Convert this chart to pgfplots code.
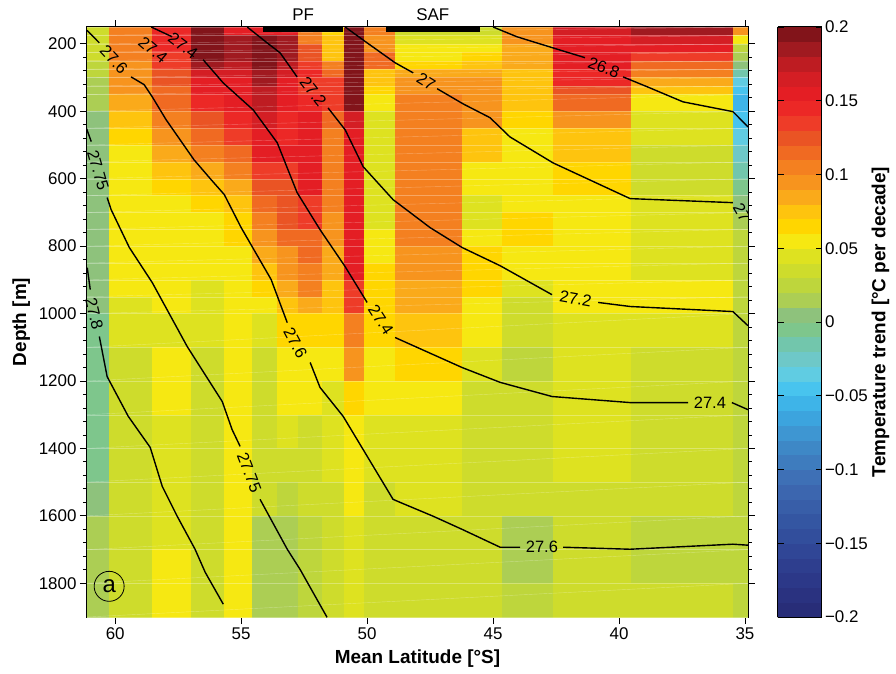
\documentclass[border=0pt]{standalone}
\usepackage{fontspec}
\setmainfont{Liberation Sans}
\usepackage{pgfplots}
\usepackage{pgfplotstable}
\pgfplotsset{compat=1.18}

% temperature trend per cell: rows = depth bins, columns = latitude bins
\pgfplotstableread{
c1 c2 c3 c4 c5 c6 c7 c8 c9 c10 c11 c12 c13 c14 c15 c16 c17
0.03 0.10 0.14 0.19 0.15 0.15 0.15 0.10 0.06 0.19 0.10 0.03 0.03 0.09 0.16 0.18 0.09
0.03 0.10 0.14 0.19 0.18 0.19 0.18 0.10 0.07 0.19 0.09 0.04 0.04 0.09 0.15 0.16 0.05
0.03 0.10 0.14 0.19 0.18 0.19 0.18 0.12 0.07 0.19 0.09 0.05 0.05 0.085 0.15 0.15 0.025
0.03 0.10 0.13 0.19 0.18 0.19 0.18 0.12 0.075 0.19 0.11 0.055 0.065 0.085 0.15 0.13 0.01
0.02 0.09 0.13 0.18 0.17 0.19 0.17 0.13 0.10 0.19 0.11 0.065 0.07 0.08 0.15 0.11 0.0
0.02 0.09 0.12 0.16 0.16 0.18 0.16 0.14 0.11 0.19 0.075 0.08 0.085 0.075 0.14 0.10 -0.02
0.01 0.09 0.12 0.15 0.15 0.18 0.15 0.13 0.13 0.19 0.07 0.09 0.09 0.075 0.14 0.085 -0.04
0.01 0.09 0.11 0.15 0.15 0.17 0.15 0.13 0.13 0.19 0.065 0.095 0.09 0.075 0.12 0.07 -0.05
0.01 0.08 0.11 0.14 0.15 0.17 0.15 0.14 0.13 0.19 0.05 0.10 0.09 0.068 0.11 0.055 -0.055
0.0 0.075 0.10 0.12 0.14 0.16 0.14 0.15 0.11 0.16 0.045 0.105 0.088 0.06 0.09 0.045 -0.05
0.0 0.065 0.09 0.115 0.13 0.15 0.14 0.15 0.10 0.15 0.04 0.105 0.075 0.05 0.075 0.038 -0.035
0.0 0.055 0.085 0.10 0.11 0.15 0.15 0.15 0.10 0.15 0.04 0.105 0.07 0.05 0.075 0.035 -0.03
0.0 0.05 0.075 0.085 0.10 0.13 0.13 0.15 0.10 0.15 0.045 0.105 0.05 0.05 0.065 0.035 -0.02
0.0 0.05 0.065 0.068 0.085 0.12 0.125 0.15 0.10 0.15 0.038 0.105 0.05 0.052 0.063 0.035 -0.01
0.0 0.05 0.05 0.058 0.07 0.11 0.12 0.13 0.10 0.15 0.038 0.105 0.042 0.055 0.05 0.042 0.0
0.0 0.05 0.05 0.052 0.065 0.10 0.12 0.13 0.095 0.15 0.04 0.105 0.042 0.058 0.05 0.042 0.01
0.0 0.048 0.05 0.05 0.06 0.09 0.11 0.11 0.09 0.15 0.052 0.105 0.05 0.058 0.05 0.042 0.02
0.0 0.048 0.05 0.05 0.055 0.085 0.095 0.11 0.085 0.15 0.055 0.09 0.058 0.055 0.05 0.042 0.02
0.0 0.048 0.05 0.05 0.055 0.075 0.09 0.10 0.08 0.15 0.058 0.09 0.058 0.05 0.05 0.042 0.02
0.0 0.048 0.05 0.045 0.05 0.065 0.08 0.10 0.075 0.13 0.065 0.08 0.058 0.04 0.05 0.046 0.02
0.0 0.045 0.05 0.045 0.05 0.055 0.075 0.085 0.07 0.13 0.065 0.08 0.05 0.035 0.05 0.046 0.02
-0.01 0.04 0.045 0.04 0.05 0.04 0.065 0.062 0.06 0.105 0.065 0.07 0.05 0.028 0.042 0.042 0.02
-0.01 0.035 0.052 0.03 0.05 0.035 0.055 0.05 0.05 0.088 0.05 0.058 0.04 0.025 0.04 0.035 0.02
-0.01 0.035 0.052 0.03 0.05 0.035 0.05 0.05 0.045 0.065 0.05 0.05 0.033 0.03 0.045 0.035 0.02
-0.01 0.033 0.038 0.035 0.05 0.03 0.04 0.035 0.04 0.05 0.038 0.04 0.03 0.03 0.045 0.033 0.02
-0.01 0.03 0.038 0.035 0.05 0.03 0.03 0.035 0.04 0.05 0.038 0.04 0.03 0.03 0.04 0.033 0.02
0.0 0.035 0.038 0.035 0.05 0.03 0.025 0.03 0.03 0.05 0.035 0.04 0.03 0.03 0.035 0.033 0.02
0.012 0.03 0.038 0.035 0.05 0.012 0.015 0.02 0.03 0.045 0.035 0.035 0.028 0.015 0.03 0.022 0.02
0.012 0.035 0.048 0.035 0.05 0.012 0.015 0.02 0.03 0.045 0.035 0.035 0.03 0.015 0.03 0.022 0.02
0.012 0.03 0.048 0.035 0.05 0.012 0.015 0.02 0.03 0.045 0.035 0.035 0.03 0.018 0.03 0.027 0.02
}\trend

% cell boundaries (latitude, depth)
\def\xb{{61.12,60.24,58.53,56.98,55.67,54.56,53.57,52.74,51.79,50.91,50.12,48.89,46.23,44.64,42.62,39.52,35.48,34.88}}
\def\yb{{150,175,200,225,250,275,300,325,350,400,450,500,550,600,650,700,750,800,850,900,950,1000,1100,1200,1300,1400,1500,1600,1700,1800,1900}}

\def\coords{}
\foreach \i in {0,...,30}{%
  \foreach \j in {0,...,17}{%
    \pgfmathtruncatemacro\ri{min(\i,29)}%
    \pgfmathtruncatemacro\cj{min(\j,16)}%
    \pgfplotstablegetelem{\ri}{[index]\cj}\of\trend
    \pgfmathsetmacro\cval{\pgfplotsretval+0.004}%
    \pgfmathsetmacro\xv{\xb[\j]}%
    \pgfmathsetmacro\yv{\yb[\i]}%
    \xdef\coords{\coords (\xv,\yv) [\cval]}%
  }%
}

\newcommand\tl{\fontsize{17}{17}\selectfont}
\newcommand\cl{\fontsize{16.5}{16.5}\selectfont}

\begin{document}
\begin{tikzpicture}
\useasboundingbox (-87bp,-57bp) rectangle (809bp,617bp);
\begin{axis}[
  name=main, at={(0,0)}, anchor=south west,
  scale only axis, width=661bp, height=590bp,
  x dir=reverse, y dir=reverse,
  xmin=34.88, xmax=61.12, ymin=150, ymax=1900,
  xtick={35,40,45,50,55,60},
  ytick={200,400,600,800,1000,1200,1400,1600,1800},
  minor y tick num=4,
  tick align=outside,
  major tick length=7bp, minor tick length=4bp,
  tick style={black, line width=0.9pt},
  axis line style={line width=1.1pt},
  clip mode=individual,
  /pgf/number format/assume math mode=true,
  /pgf/number format/1000 sep={},
  tick label style={font=\tl},
  xlabel={\bfseries Mean Latitude [°S]},
  ylabel={\bfseries Depth [m]},
  label style={font=\fontsize{19}{19}\selectfont},
  xlabel style={yshift=-3bp},
  ylabel style={yshift=2bp},
  colormap={trend}{
    rgb255=(40,45,120) rgb255=(42,50,128) rgb255=(44,56,136) rgb255=(46,62,142) rgb255=(48,70,150)
    rgb255=(50,78,156) rgb255=(52,86,162) rgb255=(56,94,168) rgb255=(60,102,175) rgb255=(62,112,182)
    rgb255=(62,124,190) rgb255=(62,136,198) rgb255=(62,150,210) rgb255=(60,164,222) rgb255=(62,180,232)
    rgb255=(72,196,238) rgb255=(96,204,226) rgb255=(110,200,200) rgb255=(114,198,172) rgb255=(126,198,140)
    rgb255=(142,194,124) rgb255=(172,206,84) rgb255=(190,214,60) rgb255=(206,220,44) rgb255=(222,226,32)
    rgb255=(246,232,18) rgb255=(255,214,0) rgb255=(254,196,14) rgb255=(250,170,26) rgb255=(247,148,30)
    rgb255=(244,128,32) rgb255=(240,106,34) rgb255=(234,84,36) rgb255=(238,60,40) rgb255=(236,40,38)
    rgb255=(228,30,36) rgb255=(212,30,36) rgb255=(190,28,34) rgb255=(160,26,32) rgb255=(130,20,26)
  },
  colormap access=piecewise constant,
  point meta min=-0.2, point meta max=0.2,
  colorbar,
  colorbar style={
    at={(parent axis.north east)}, anchor=north west, xshift=21bp,
    scale only axis, width=44bp, height=590bp,
    ytick={-0.2,-0.15,-0.1,-0.05,0,0.05,0.1,0.15,0.2},
    yticklabels={−0.2,−0.15,−0.1,−0.05,0,0.05,0.1,0.15,0.2},
    yticklabel style={font=\tl},
    tick align=inside, major tick length=6bp,
    tick style={black, line width=0.8pt},
    axis line style={line width=1pt},
    ylabel={\bfseries Temperature trend [°C per decade]},
    ylabel style={font=\fontsize{19}{19}\selectfont, yshift=3bp},
  },
]
\edef\temp{\noexpand\addplot[surf, shader=flat corner, mesh/cols=18, point meta=explicit] coordinates {\coords};}
\temp
\edef\temp{\noexpand\addplot[mesh, mesh/cols=18, colormap={whitecm}{color=(white) color=(white)}, opacity=0.3, line width=0.4bp, point meta=explicit] coordinates {\coords};}
\temp

% contour 27.8
\addplot[black, line width=1.4pt] coordinates {(61.11,864) (60.99,929)};
\addplot[black, line width=1.4pt] coordinates {(60.63,1068) (60.32,1187) (59.48,1305) (58.61,1397) (58.13,1513) (57.54,1601) (56.83,1699) (56.43,1767) (55.71,1862)};
\node[font=\cl, rotate=-77] at (axis cs:60.83,1000) {27.8};
% contour 27.75
\addplot[black, line width=1.4pt] coordinates {(61.15,449) (60.95,490)};
\addplot[black, line width=1.4pt] coordinates {(60.32,656) (60.16,692) (59.44,804) (58.53,908) (57.14,1098) (55.75,1261) (55.36,1344) (55.04,1394)};
\addplot[black, line width=1.4pt] coordinates {(54.25,1551) (53.17,1699) (52.66,1759) (51.59,1901)};
\node[font=\cl, rotate=-74] at (axis cs:60.68,575) {27.75};
\node[font=\cl, rotate=-69] at (axis cs:54.68,1471) {27.75};
% contour 27.6
\addplot[black, line width=1.4pt] coordinates {(61.12,160) (60.63,197)};
\addplot[black, line width=1.4pt] coordinates {(59.37,298) (58.85,321) (58.53,357) (57.98,425) (56.87,544) (56.19,603) (55.67,647) (55.0,745) (53.81,899) (53.17,1027)};
\addplot[black, line width=1.4pt] coordinates {(52.26,1145) (51.87,1219) (50.95,1305) (50.16,1403) (48.97,1551) (48.69,1560) (47.38,1601) (46.23,1640) (44.72,1693) (43.93,1693)};
\addplot[black, line width=1.4pt] coordinates {(42.22,1693) (39.56,1699) (35.48,1684) (34.88,1687)};
\node[font=\cl, rotate=-47] at (axis cs:60.05,247) {27.6};
\node[font=\cl, rotate=-62] at (axis cs:52.85,1086) {27.6};
\node[font=\cl] at (axis cs:43.06,1693) {27.6};
% contour 27.4
\addplot[black, line width=1.4pt] coordinates {(58.57,150) (57.74,179)};
\addplot[black, line width=1.4pt] coordinates {(56.51,247) (55.71,316) (54.52,396) (53.57,493) (52.78,641) (51.87,751) (50.87,861) (50.0,967)};
\addplot[black, line width=1.4pt] coordinates {(48.89,1071) (46.23,1160) (44.72,1204) (42.66,1246) (39.56,1264) (37.26,1264)};
\addplot[black, line width=1.4pt] coordinates {(35.52,1264) (34.88,1285)};
\node[font=\cl, rotate=-37] at (axis cs:57.3,205) {27.4};
\node[font=\cl, rotate=-40] at (axis cs:58.5,218) {27.4};
\node[font=\cl, rotate=-57] at (axis cs:49.45,1018) {27.4};
\node[font=\cl] at (axis cs:36.39,1264) {27.4};
% contour 27.2
\addplot[black, line width=1.4pt] coordinates {(54.76,150) (53.97,197) (53.45,227) (52.78,298)};
\addplot[black, line width=1.4pt] coordinates {(51.55,390) (50.87,455) (50.16,564) (48.97,662) (47.5,745) (46.23,804) (44.72,858) (42.66,944)};
\addplot[black, line width=1.4pt] coordinates {(40.83,967) (39.56,979) (35.48,994) (34.88,1036)};
\node[font=\cl, rotate=-52] at (axis cs:52.14,342) {27.2};
\node[font=\cl, rotate=-10] at (axis cs:41.72,956) {27.2};
% contour 27
\addplot[black, line width=1.4pt] coordinates {(50.87,150) (50.0,197) (48.89,256) (48.17,286)};
\addplot[black, line width=1.4pt] coordinates {(47.22,333) (46.19,378) (45.12,419) (44.33,476) (42.62,553) (39.56,659) (35.48,671)};
\node[font=\cl, rotate=-32] at (axis cs:47.66,312) {27};
% contour 26.8
\addplot[black, line width=1.4pt] coordinates {(45.0,150) (44.05,179) (42.62,212) (41.35,241)};
\addplot[black, line width=1.4pt] coordinates {(39.84,298) (38.89,327) (37.46,372) (35.48,401) (34.88,446)};
\node[font=\cl, rotate=-20] at (axis cs:40.6,270) {26.8};

\begin{scope}
\clip (axis cs:61.12,150) rectangle (axis cs:34.88,1900);
\node[font=\cl, rotate=-60] at (axis cs:35.12,700) {27};
\end{scope}

% fronts
\fill[black] (axis cs:54.13,147) rectangle (axis cs:50.95,165);
\fill[black] (axis cs:49.25,147) rectangle (axis cs:45.52,165);
\node[font=\tl, anchor=south] at (axis cs:52.54,150) [yshift=3bp] {PF};
\node[font=\tl, anchor=south] at (axis cs:47.39,150) [yshift=3bp] {SAF};

% panel label
\node[draw, circle, line width=0.8pt, minimum size=30bp, inner sep=0pt, font=\fontsize{24}{24}\selectfont] at (axis cs:60.24,1809) {a};
\end{axis}
\end{tikzpicture}
\end{document}
